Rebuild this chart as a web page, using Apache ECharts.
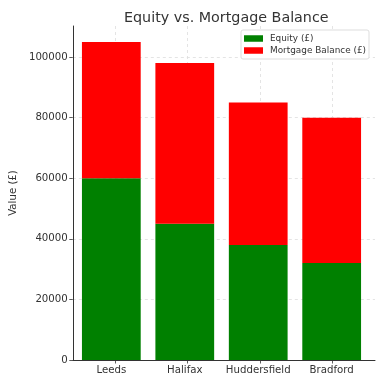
<!DOCTYPE html>
<html><head><meta charset="utf-8">
<script src="https://cdn.jsdelivr.net/npm/echarts@6/dist/echarts.min.js"></script>
<style>html,body{margin:0;padding:0;background:#fff}#c{width:384px;height:384px}</style>
</head><body><div id="c"></div>
<script>
const categories = ['Leeds', 'Halifax', 'Huddersfield', 'Bradford'];
const equity = [60000, 45000, 38000, 32000];
const mortgage = [45000, 53000, 47000, 48000];
const yTicks = [0, 20000, 40000, 60000, 80000, 100000];

const idx = categories.map((c, i) => i);
const chart = echarts.init(document.getElementById('c'), null, {renderer: 'canvas'});
const font = 'DejaVu Sans';
const grid = {color: '#ddd', type: [3, 3], width: 0.8};
const tick = {show: true, length: 3.5, lineStyle: {color: '#333', width: 0.8}};
const YMAX = 110250;
chart.setOption({
  animation: false,
  textStyle: {fontFamily: font},
  title: {text: 'Equity vs. Mortgage Balance', left: 119, top: 6,
    textStyle: {fontFamily: font, fontSize: 14.3, fontWeight: 'normal', color: '#333'}},
  legend: {orient: 'vertical', right: 15, top: 30, itemWidth: 19, itemHeight: 6.5, itemGap: 3,
    borderColor: '#ddd', borderWidth: 1, borderRadius: 2, padding: [4, 3, 4, 3], backgroundColor: '#fff',
    textStyle: {fontFamily: font, fontSize: 8.9, color: '#333', padding: [0, 0, 0, 2]}, icon: 'rect',
    data: ['Equity (£)', 'Mortgage Balance (£)']},
  grid: [
    {left: 68, right: 9, top: 26, bottom: 24},
    {left: 74.6, right: 15.6, top: 26, bottom: 24}
  ],
  xAxis: [
    {gridIndex: 0, type: 'value', min: -0.59, max: 3.59,
      axisLine: {show: true, onZero: false, lineStyle: {color: '#333', width: 1}},
      axisTick: Object.assign({customValues: idx}, tick),
      axisLabel: {show: false, customValues: idx},
      splitLine: {show: true, lineStyle: grid}},
    {gridIndex: 1, type: 'category', data: categories,
      axisLine: {show: false}, axisTick: {show: false}, splitLine: {show: false},
      axisLabel: {fontFamily: font, fontSize: 10.2, color: '#333', margin: 5, interval: 0}}
  ],
  yAxis: [
    {gridIndex: 0, type: 'value', min: 0, max: YMAX, name: 'Value (£)', nameLocation: 'middle', nameGap: 50,
      nameTextStyle: {fontFamily: font, fontSize: 10.2, color: '#333'},
      axisLine: {show: true, onZero: false, lineStyle: {color: '#333', width: 1}},
      axisTick: Object.assign({customValues: yTicks}, tick),
      axisLabel: {customValues: yTicks, formatter: v => String(v), fontFamily: font, fontSize: 10.2, color: '#333', margin: 5},
      splitLine: {show: true, lineStyle: grid}},
    {gridIndex: 1, type: 'value', min: 0, max: YMAX, show: false, splitLine: {show: false}}
  ],
  series: [
    {name: 'Equity (£)', type: 'bar', stack: 's', xAxisIndex: 1, yAxisIndex: 1, barWidth: '80%',
      itemStyle: {color: '#008000'}, data: equity},
    {name: 'Mortgage Balance (£)', type: 'bar', stack: 's', xAxisIndex: 1, yAxisIndex: 1, barWidth: '80%',
      itemStyle: {color: '#ff0000'}, data: mortgage}
  ]
});
</script></body></html>
